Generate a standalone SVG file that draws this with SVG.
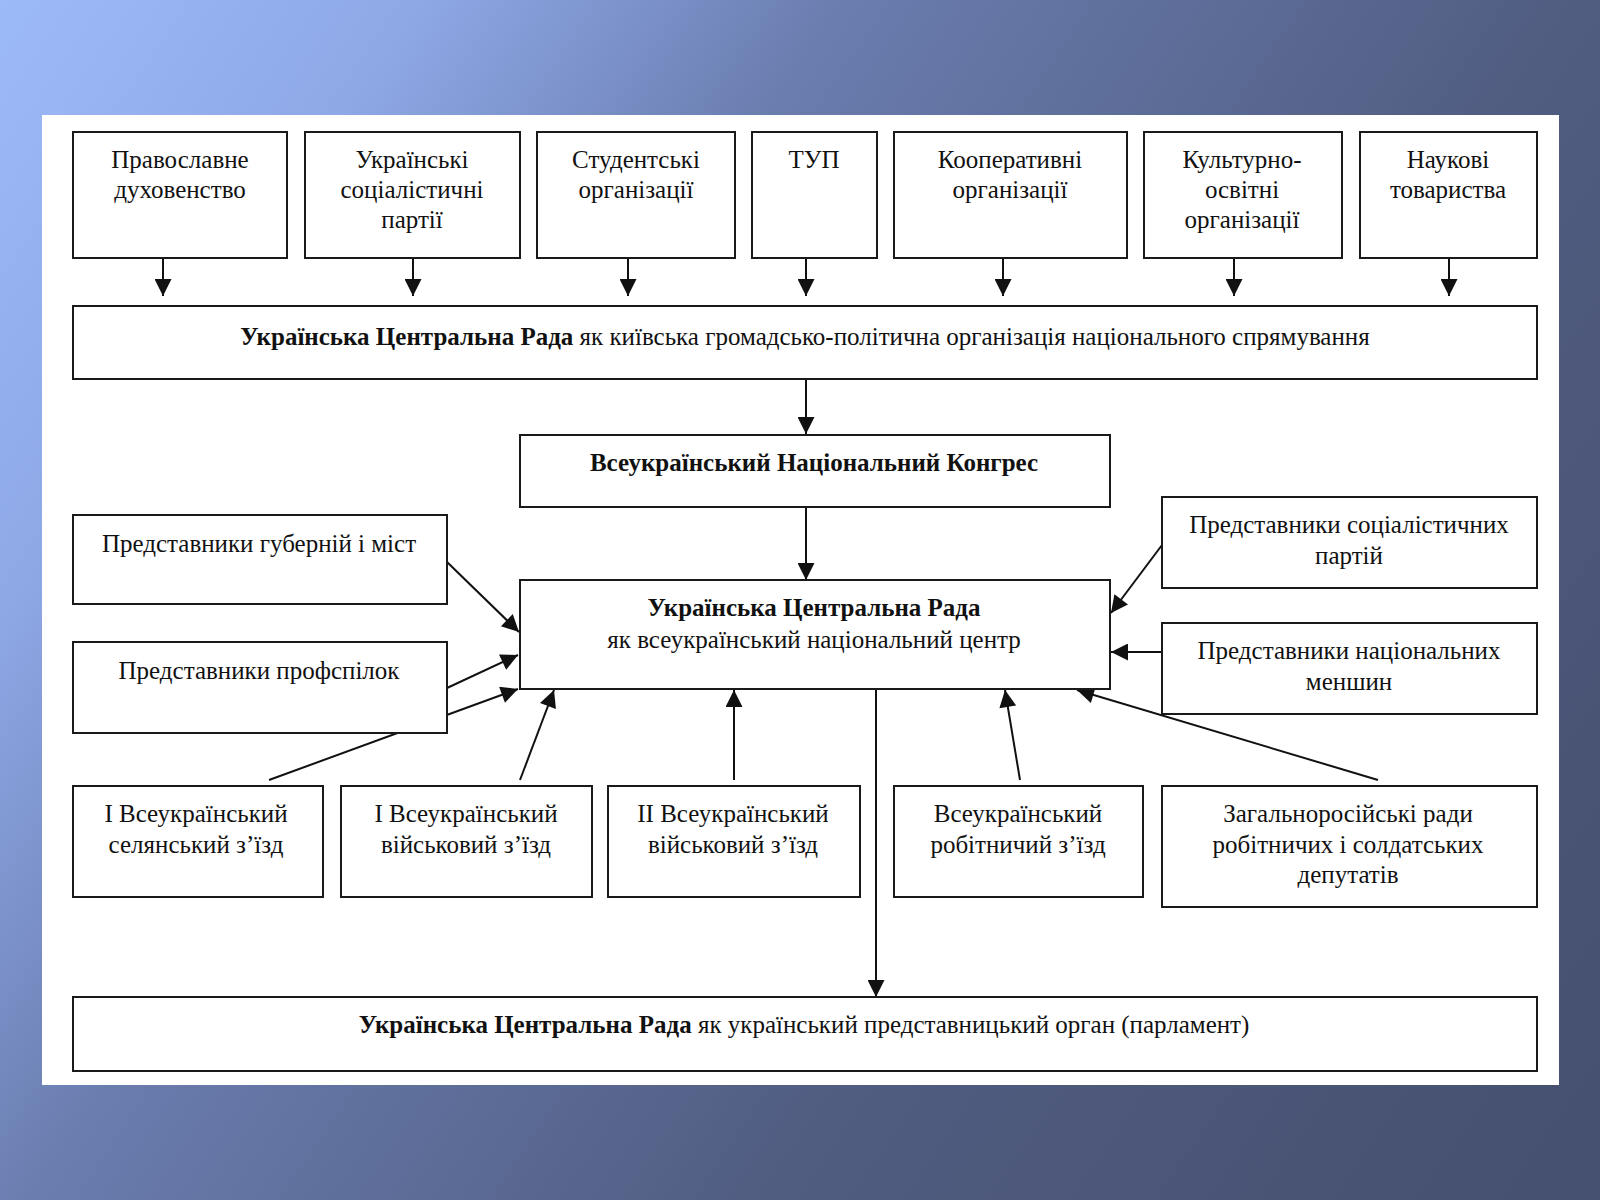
<svg xmlns="http://www.w3.org/2000/svg" width="1600" height="1200" viewBox="0 0 1600 1200">
<defs>
<linearGradient id="bg" gradientUnits="userSpaceOnUse" x1="0" y1="0" x2="1601" y2="1089">
<stop offset="0" stop-color="#9dbaf8"/>
<stop offset="0.18" stop-color="#8ea8e6"/>
<stop offset="0.36" stop-color="#6a7daf"/>
<stop offset="0.68" stop-color="#505c80"/>
<stop offset="1" stop-color="#465070"/>
</linearGradient>
<marker id="ah" viewBox="0 0 10 10" refX="10" refY="5" markerWidth="18" markerHeight="17" markerUnits="userSpaceOnUse" orient="auto">
<path d="M0,0 L10,5 L0,10 z" fill="#111"/>
</marker>
<style>
.box{fill:#fff;stroke:#1a1a1a;stroke-width:2}
.t{font-family:"Liberation Serif","Times New Roman",serif;font-size:25px;fill:#111;text-anchor:middle}
.b{font-weight:bold}
.c{stroke:#111;stroke-width:2;fill:none}
.ca{stroke:#111;stroke-width:2;fill:none;marker-end:url(#ah)}
</style>
</defs>
<rect x="0" y="0" width="1600" height="1200" fill="url(#bg)"/>
<rect x="42" y="115" width="1517" height="970" fill="#fff"/>

<g id="connectors">
<line class="ca" x1="163" y1="258" x2="163" y2="296"/>
<line class="ca" x1="413" y1="258" x2="413" y2="296"/>
<line class="ca" x1="628" y1="258" x2="628" y2="296"/>
<line class="ca" x1="806" y1="258" x2="806" y2="296"/>
<line class="ca" x1="1003" y1="258" x2="1003" y2="296"/>
<line class="ca" x1="1234" y1="258" x2="1234" y2="296"/>
<line class="ca" x1="1449" y1="258" x2="1449" y2="296"/>
<line class="ca" x1="806" y1="379" x2="806" y2="434"/>
<line class="ca" x1="806" y1="507" x2="806" y2="580"/>
<line class="ca" x1="447" y1="562" x2="519" y2="632"/>
<line class="ca" x1="447" y1="688" x2="518" y2="655"/>
<line class="ca" x1="269" y1="780" x2="518" y2="689"/>
<line class="ca" x1="520" y1="780" x2="554" y2="690"/>
<line class="ca" x1="734" y1="780" x2="734" y2="690"/>
<line class="ca" x1="876" y1="690" x2="876" y2="997"/>
<line class="ca" x1="1020" y1="780" x2="1005" y2="690"/>
<line class="ca" x1="1378" y1="780" x2="1077" y2="690"/>
<line class="ca" x1="1162" y1="545" x2="1111" y2="613"/>
<line class="ca" x1="1162" y1="652" x2="1111" y2="652"/>
</g>

<g id="n1"><rect class="box" x="73" y="132" width="214" height="126"/>
<text class="t" x="180" y="168">Православне</text><text class="t" x="180" y="198">духовенство</text></g>
<g id="n2"><rect class="box" x="305" y="132" width="215" height="126"/>
<text class="t" x="412" y="168">Українські</text><text class="t" x="412" y="198">соціалістичні</text><text class="t" x="412" y="228">партії</text></g>
<g id="n3"><rect class="box" x="537" y="132" width="198" height="126"/>
<text class="t" x="636" y="168">Студентські</text><text class="t" x="636" y="198">організації</text></g>
<g id="n4"><rect class="box" x="752" y="132" width="125" height="126"/>
<text class="t" x="814" y="168">ТУП</text></g>
<g id="n5"><rect class="box" x="894" y="132" width="233" height="126"/>
<text class="t" x="1010" y="168">Кооперативні</text><text class="t" x="1010" y="198">організації</text></g>
<g id="n6"><rect class="box" x="1144" y="132" width="198" height="126"/>
<text class="t" x="1242" y="168">Культурно-</text><text class="t" x="1242" y="198">освітні</text><text class="t" x="1242" y="228">організації</text></g>
<g id="n7"><rect class="box" x="1360" y="132" width="177" height="126"/>
<text class="t" x="1448" y="168">Наукові</text><text class="t" x="1448" y="198">товариства</text></g>

<g id="kyiv"><rect class="box" x="73" y="306" width="1464" height="73"/>
<text class="t" x="805" y="345"><tspan class="b">Українська Центральна Рада</tspan> як київська громадсько-політична організація національного спрямування</text></g>

<g id="congress"><rect class="box" x="520" y="435" width="590" height="72"/>
<text class="t b" x="814" y="471">Всеукраїнський Національний Конгрес</text></g>

<g id="center"><rect class="box" x="520" y="580" width="590" height="109"/>
<text class="t b" x="814" y="616">Українська Центральна Рада</text>
<text class="t" x="814" y="648">як всеукраїнський національний центр</text></g>

<g id="gub"><rect class="box" x="73" y="515" width="374" height="89"/>
<text class="t" x="259" y="552">Представники губерній і міст</text></g>
<g id="prof"><rect class="box" x="73" y="642" width="374" height="91"/>
<text class="t" x="259" y="679">Представники профспілок</text></g>

<g id="soc"><rect class="box" x="1162" y="497" width="375" height="91"/>
<text class="t" x="1349" y="533">Представники соціалістичних</text><text class="t" x="1349" y="564">партій</text></g>
<g id="nat"><rect class="box" x="1162" y="623" width="375" height="91"/>
<text class="t" x="1349" y="659">Представники національних</text><text class="t" x="1349" y="690">меншин</text></g>

<g id="b1"><rect class="box" x="73" y="786" width="250" height="111"/>
<text class="t" x="196" y="822">І Всеукраїнський</text><text class="t" x="196" y="853">селянський з’їзд</text></g>
<g id="b2"><rect class="box" x="341" y="786" width="251" height="111"/>
<text class="t" x="466" y="822">І Всеукраїнський</text><text class="t" x="466" y="853">військовий з’їзд</text></g>
<g id="b3"><rect class="box" x="608" y="786" width="252" height="111"/>
<text class="t" x="733" y="822">ІІ Всеукраїнський</text><text class="t" x="733" y="853">військовий з’їзд</text></g>
<g id="b4"><rect class="box" x="894" y="786" width="249" height="111"/>
<text class="t" x="1018" y="822">Всеукраїнський</text><text class="t" x="1018" y="853">робітничий з’їзд</text></g>
<g id="b5"><rect class="box" x="1162" y="786" width="375" height="121"/>
<text class="t" x="1348" y="822">Загальноросійські ради</text><text class="t" x="1348" y="853">робітничих і солдатських</text><text class="t" x="1348" y="883">депутатів</text></g>

<g id="parl"><rect class="box" x="73" y="997" width="1464" height="74"/>
<text class="t" x="804" y="1033"><tspan class="b">Українська Центральна Рада</tspan> як український представницький орган (парламент)</text></g>
</svg>
